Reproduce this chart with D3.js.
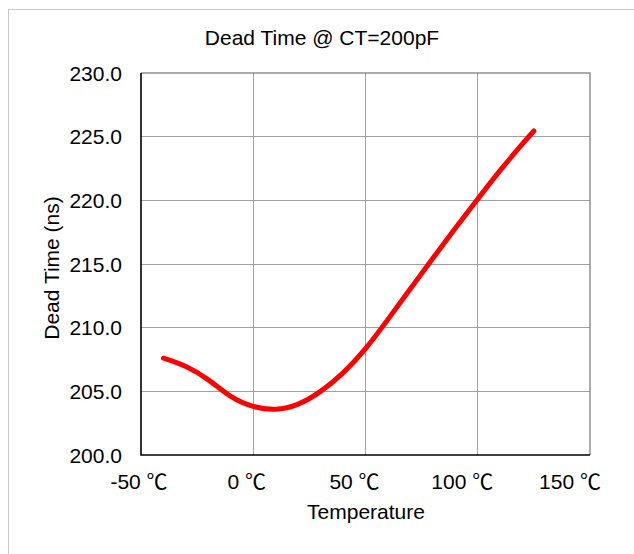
<!DOCTYPE html>
<html>
<head>
<meta charset="utf-8">
<script src="https://cdn.jsdelivr.net/npm/d3@7"></script>
<style>
  body { margin: 0; background: #fff; }
  text { font-family: "Liberation Sans", Arial, sans-serif; fill: #000; }
  .deg { font-family: "Noto Sans CJK JP", sans-serif; }
</style>
</head>
<body>
<svg></svg>
<script>
const size = { w: 634, h: 554 };
const plot = { l: 141, r: 590, t: 73, b: 455 };

// readings from the reference curve
const temps = [-40, -30, -20, -10, 0, 10, 20, 30, 40, 50, 60, 70, 80, 90, 100, 110, 120, 125];
const deadTime = [207.6, 206.95, 205.9, 204.6, 203.82, 203.6, 204.0, 205.0, 206.45, 208.35, 210.65, 213.05, 215.45, 217.8, 220.1, 222.35, 224.45, 225.45];
const xTicks = [-50, 0, 50, 100, 150];
const yTicks = [200, 205, 210, 215, 220, 225, 230];

const svg = d3.select("svg").attr("width", size.w).attr("height", size.h);

// outer chart frame
svg.append("rect")
  .attr("x", 8.5).attr("y", 9.5)
  .attr("width", 700).attr("height", 700)
  .attr("fill", "none")
  .attr("stroke", "#c8c8c8")
  .attr("stroke-width", 1);

const x = d3.scaleLinear().domain([-50, 150]).range([plot.l, plot.r]);
const y = d3.scaleLinear().domain([200, 230]).range([plot.b, plot.t]);
// excel spaces the category labels a bit tighter than the gridlines
const xLabel = d3.scaleLinear().domain([-50, 150]).range([139, 570]);

const grid = svg.append("g").attr("shape-rendering", "crispEdges");
grid.selectAll("line.h")
  .data(yTicks.slice(1, -1))
  .join("line")
  .attr("x1", plot.l).attr("x2", plot.r)
  .attr("y1", (d) => y(d)).attr("y2", (d) => y(d))
  .attr("stroke", "#a0a0a0");
grid.selectAll("line.v")
  .data(xTicks.slice(1, -1))
  .join("line")
  .attr("x1", (d) => x(d)).attr("x2", (d) => x(d))
  .attr("y1", plot.t).attr("y2", plot.b)
  .attr("stroke", "#a0a0a0");

// plot border: gray top/right, black axes left/bottom
svg.append("path")
  .attr("d", `M${plot.l},${plot.t}H${plot.r}V${plot.b}`)
  .attr("fill", "none")
  .attr("stroke", "#909090")
  .attr("stroke-width", 1.5);
svg.append("path")
  .attr("d", `M${plot.l},${plot.t}V${plot.b}H${plot.r}`)
  .attr("fill", "none")
  .attr("stroke", "#000")
  .attr("stroke-width", 1.6);

// tick labels
svg.append("g").selectAll("text")
  .data(yTicks)
  .join("text")
  .attr("x", 122)
  .attr("y", (d) => y(d))
  .attr("dy", "0.36em")
  .attr("text-anchor", "end")
  .attr("font-size", 21)
  .text((d) => d3.format(".1f")(d));

const xl = svg.append("g").selectAll("text")
  .data(xTicks)
  .join("text")
  .attr("x", (d) => xLabel(d))
  .attr("y", 489)
  .attr("text-anchor", "middle")
  .attr("font-size", 21)
  .text((d) => d + " ");
xl.append("tspan").classed("deg", true).text("℃");

// titles
svg.append("text")
  .attr("x", 322).attr("y", 45)
  .attr("text-anchor", "middle")
  .attr("font-size", 21)
  .text("Dead Time @ CT=200pF");
svg.append("text")
  .attr("x", 366).attr("y", 519)
  .attr("text-anchor", "middle")
  .attr("font-size", 21)
  .text("Temperature");
svg.append("text")
  .attr("transform", "translate(59,268) rotate(-90)")
  .attr("text-anchor", "middle")
  .attr("font-size", 21)
  .text("Dead Time (ns)");

// curve
const line = d3.line()
  .x((d, i) => x(temps[i]))
  .y((d) => y(d))
  .curve(d3.curveNatural);

svg.append("path")
  .datum(deadTime)
  .attr("d", line)
  .attr("fill", "none")
  .attr("stroke", "#ff0000")
  .attr("stroke-width", 5)
  .attr("stroke-linecap", "round")
  .attr("stroke-linejoin", "round");
</script>
</body>
</html>
